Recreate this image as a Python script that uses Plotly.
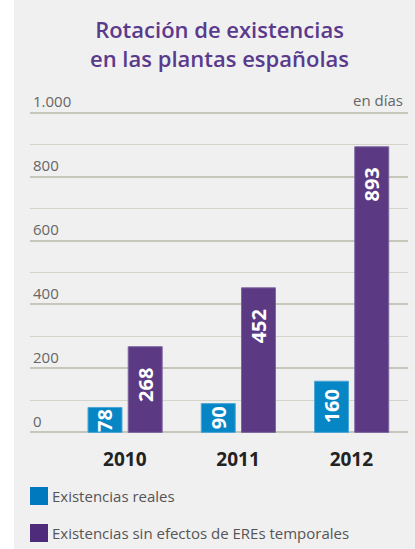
import plotly.graph_objects as go

# --- data -------------------------------------------------------------
years = ["2010", "2011", "2012"]
reales = [78, 90, 160]
sin_eres = [268, 452, 893]
series_names = ["Existencias reales", "Existencias sin efectos de EREs temporales"]
title_text = "Rotación de existencias<br>en las plantas españolas"
y_tick_vals = [0, 200, 400, 600, 800, 1000]
y_tick_text = ["0", "200", "400", "600", "800", "1.000"]

# --- style ------------------------------------------------------------
W, H = 415, 549
M_L, M_R, M_T, M_B = 30, 7, 87, 115
Y_RANGE = [-5, 1080]
X_RANGE = [-0.837, 2.5]
BAR_W = 0.3
OFF_A, OFF_B = -0.325, 0.03
BLUE, PURPLE = "#0786C6", "#5B3A83"
BLUE_LEG, PURPLE_LEG = "#0079BF", "#4F2C7B"
BG = "#F0F0F0"
GRID_MAJOR, GRID_MINOR = "#C6C7BA", "#D3D4CA"
FONT = "Open Sans"
LABEL_SIZE = 20
LABEL_DROP = 38  # distance from bar top to label centre on tall bars

plot_w = W - M_L - M_R
plot_h = H - M_T - M_B
px_per_unit = plot_h / (Y_RANGE[1] - Y_RANGE[0])


def paper_x(px):
    return (px - M_L) / plot_w


def paper_y(py):
    return (H - M_B - py) / plot_h


x_idx = list(range(len(years)))

fig = go.Figure()
fig.add_trace(go.Bar(
    x=x_idx, y=reales, width=BAR_W, offset=OFF_A, name=series_names[0],
    marker=dict(color=BLUE, line=dict(color="#4DA6D6", width=1)),
    showlegend=False, hoverinfo="skip",
))
fig.add_trace(go.Bar(
    x=x_idx, y=sin_eres, width=BAR_W, offset=OFF_B, name=series_names[1],
    marker=dict(color=PURPLE, line=dict(color="#7E66A2", width=1)),
    showlegend=False, hoverinfo="skip",
))

annotations = []
shapes = []

# value labels, rotated inside each bar: a fixed drop below the top on
# tall bars, centred on short ones
for vals, off in [(reales, OFF_A), (sin_eres, OFF_B)]:
    for i, v in enumerate(vals):
        bar_px = v * px_per_unit
        drop = min(LABEL_DROP, bar_px / 2)
        annotations.append(dict(
            x=i + off + BAR_W / 2, y=v, xref="x", yref="y",
            text=str(v), showarrow=False, textangle=-90,
            xanchor="center", yanchor="middle", yshift=-drop,
            font=dict(family=FONT, size=LABEL_SIZE, color="white", weight="bold"),
        ))

# unit note
annotations.append(dict(
    x=1, y=1000, xref="paper", yref="y", text="en días", showarrow=False,
    xanchor="right", yanchor="bottom", xshift=-3, yshift=1,
    font=dict(family=FONT, size=15, color="#666666"),
))

# two-line title
annotations.append(dict(
    x=0.5, y=paper_y(43), xref="paper", yref="paper", text=title_text,
    showarrow=False, xanchor="center", yanchor="middle",
    font=dict(family=FONT, size=22, color="#5A3A8C", weight=600),
))

# legend: square swatch + label
for nm, col, cy in zip(series_names, [BLUE_LEG, PURPLE_LEG], [496, 533]):
    shapes.append(dict(
        type="rect", xref="paper", yref="paper",
        x0=paper_x(30), x1=paper_x(48), y0=paper_y(cy + 9), y1=paper_y(cy - 9),
        fillcolor=col, line=dict(width=0),
    ))
    annotations.append(dict(
        x=paper_x(50), y=paper_y(cy), xref="paper", yref="paper", text=nm,
        showarrow=False, xanchor="left", yanchor="middle",
        font=dict(family=FONT, size=15, color="#555555"),
    ))

# white strip on the far left edge
shapes.append(dict(
    type="rect", xref="paper", yref="paper",
    x0=paper_x(-20), x1=paper_x(14), y0=-2, y1=2,
    fillcolor="white", line=dict(width=0), layer="below",
))

fig.update_layout(
    width=W, height=H,
    margin=dict(l=M_L, r=M_R, t=M_T, b=M_B, pad=0),
    paper_bgcolor=BG, plot_bgcolor=BG,
    showlegend=False,
    xaxis=dict(
        range=X_RANGE, tickvals=x_idx, ticktext=years,
        showgrid=False, zeroline=False, showline=False,
        ticks="outside", ticklen=8, tickcolor="rgba(0,0,0,0)",
        tickfont=dict(family=FONT, size=19, color="#222222", weight="bold"),
        fixedrange=True,
    ),
    yaxis=dict(
        range=Y_RANGE, tickvals=y_tick_vals, ticktext=y_tick_text,
        ticklabelposition="inside top",
        showgrid=True, gridcolor=GRID_MAJOR, gridwidth=2,
        minor=dict(dtick=100, tick0=0, showgrid=True, gridcolor=GRID_MINOR, gridwidth=1),
        zeroline=False, showline=False, ticks="",
        tickfont=dict(family=FONT, size=15, color="#666666"),
        fixedrange=True,
    ),
    annotations=annotations,
    shapes=shapes,
)

fig.write_html("out.html")
